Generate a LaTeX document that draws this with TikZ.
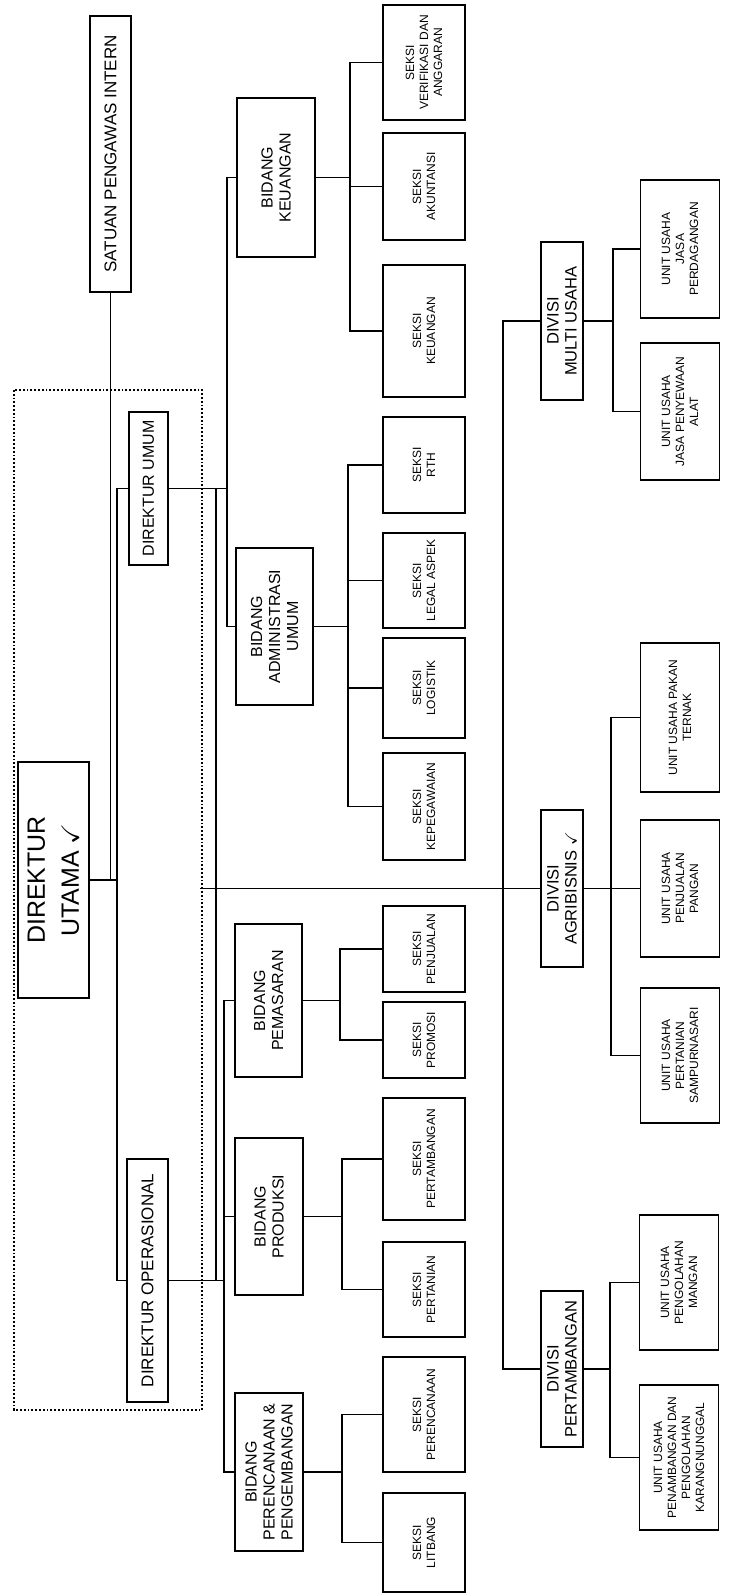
\documentclass[tikz,border=0pt]{standalone}
\usepackage{amssymb}
\usepackage{fontspec}
\setmainfont{Liberation Sans}

\begin{document}
\begin{tikzpicture}[
  x=1pt,y=-1pt,
  box/.style={draw,line width=1.4pt,rotate=90,align=center,
    inner sep=1pt,outer sep=0pt},
  wh/.style 2 args={minimum height=#1pt,minimum width=#2pt},
  head/.style={box,font=\fontsize{17}{20}\selectfont},
  bidang/.style={box,font=\fontsize{16}{18}\selectfont},
  divisi/.style={box,font=\fontsize{16.5}{18}\selectfont},
  seksi/.style={box,font=\fontsize{12}{14}\selectfont},
  link/.style={line width=1.4pt}
]
  \useasboundingbox (0,0) rectangle (728,1594);

  % direksi
  \node[head,wh={41}{276}] (spi) at (110.5,154) {SATUAN PENGAWAS INTERN};
  \node[box,wh={71}{236},font=\fontsize{25}{34}\selectfont] (dirut) at (53.5,880)
    {DIREKTUR\\UTAMA $\checkmark$};
  \node[head,wh={39}{153},font=\fontsize{16}{18}\selectfont] (dirum) at (148.5,488.5)
    {DIREKTUR UMUM};
  \node[head,wh={41}{243}] (dirop) at (147.5,1280.5) {DIREKTUR OPERASIONAL};
  \draw[dotted,line width=1.8pt] (14,390) rectangle (202,1410);

  % bidang
  \node[bidang,wh={78}{159}] (bkeu) at (276,177.5) {BIDANG\\KEUANGAN};
  \node[bidang,wh={77}{157}] (badm) at (274.5,626.5) {BIDANG\\ADMINISTRASI\\UMUM};
  \node[bidang,wh={67}{153}] (bpem) at (268.5,1000.5) {BIDANG\\PEMASARAN};
  \node[bidang,wh={68}{157}] (bprod) at (269,1216.5) {BIDANG\\PRODUKSI};
  \node[bidang,wh={68}{158}] (bper) at (269,1472) {BIDANG\\PERENCANAAN \&\\PENGEMBANGAN};

  % seksi
  \node[seksi,wh={82}{115}] (sver) at (424,62.5) {SEKSI\\VERIFIKASI DAN\\ANGGARAN};
  \node[seksi,wh={82}{107}] (sakt) at (424,186.5) {SEKSI\\AKUNTANSI};
  \node[seksi,wh={82}{132}] (skeu) at (424,331) {SEKSI\\KEUANGAN};
  \node[seksi,wh={82}{96}] (srth) at (424,465) {SEKSI\\RTH};
  \node[seksi,wh={82}{95}] (slegal) at (424,580.5) {SEKSI\\LEGAL ASPEK};
  \node[seksi,wh={82}{100}] (slog) at (424,688) {SEKSI\\LOGISTIK};
  \node[seksi,wh={82}{107}] (speg) at (424,806.5) {SEKSI\\KEPEGAWAIAN};
  \node[seksi,wh={82}{86}] (spenj) at (424,949) {SEKSI\\PENJUALAN};
  \node[seksi,wh={82}{76}] (sprom) at (424,1040) {SEKSI\\PROMOSI};
  \node[seksi,wh={82}{122}] (stamb) at (424,1159) {SEKSI\\PERTAMBANGAN};
  \node[seksi,wh={82}{95}] (stani) at (424,1289.5) {SEKSI\\PERTANIAN};
  \node[seksi,wh={82}{115}] (srenc) at (424,1414.5) {SEKSI\\PERENCANAAN};
  \node[seksi,wh={82}{99}] (slit) at (424,1542.5) {SEKSI\\LITBANG};

  % divisi
  \node[divisi,wh={42}{158}] (dmu) at (562,321) {DIVISI\\MULTI USAHA};
  \node[divisi,wh={42}{157}] (dagr) at (562,888.5) {DIVISI\\AGRIBISNIS $\checkmark$};
  \node[divisi,wh={42}{156}] (dtam) at (562,1369) {DIVISI\\PERTAMBANGAN};

  % unit usaha
  \node[seksi,wh={79}{138}] (ujasa) at (680,249) {UNIT USAHA\\JASA\\PERDAGANGAN};
  \node[seksi,wh={79}{137}] (usewa) at (680,411.5) {UNIT USAHA\\JASA PENYEWAAN\\ALAT};
  \node[seksi,wh={79}{149}] (upakan) at (680,717.5) {UNIT USAHA PAKAN\\TERNAK};
  \node[seksi,wh={79}{137}] (upangan) at (680,888.5) {UNIT USAHA\\PENJUALAN\\PANGAN};
  \node[seksi,wh={79}{135}] (usamp) at (680,1055.5) {UNIT USAHA\\PERTANIAN\\SAMPURNASARI};
  \node[seksi,wh={79}{135}] (umangan) at (679,1282.5) {UNIT USAHA\\PENGOLAHAN\\MANGAN};
  \node[seksi,wh={79}{145}] (ukarang) at (679,1457.5)
    {UNIT USAHA\\PENAMBANGAN DAN\\PENGOLAHAN\\KARANGNUNGGAL};

  % jalur garis
  \coordinate (busD) at (117,0);
  \coordinate (busO) at (216,0);
  \coordinate (busP) at (224,0);
  \coordinate (busU) at (227,0);
  \coordinate (busK) at (350,0);
  \coordinate (busA) at (348,0);
  \coordinate (busM) at (340,0);
  \coordinate (busR) at (342,0);
  \coordinate (busV) at (503,0);
  \coordinate (busMU) at (613,0);
  \coordinate (busAG) at (611,0);
  \coordinate (busTM) at (610,0);
  \coordinate (divL) at (200,888.5);

  \draw[link] (spi.west) -- (spi.west |- dirut.south);
  \draw[link] (dirut.south) -- (dirut.south -| busD);
  \draw[link] (dirum.north) -- (dirum.north -| busD) -- (dirop.north -| busD) -- (dirop.north);
  \draw[link] (dirum.south) -- (dirum.south -| busU);
  \draw[link] (dirum.south -| busO) -- (dirop.south -| busO);
  \draw[link] (dirop.south) -- (dirop.south -| busP);

  \draw[link] (bkeu.north) -- (bkeu.north -| busU) -- (badm.north -| busU) -- (badm.north);
  \draw[link] (bpem.north) -- (bpem.north -| busP) -- (bper.north -| busP) -- (bper.north);
  \draw[link] (bprod.north) -- (bprod.north -| busP);

  \draw[link] (bkeu.south) -- (bkeu.south -| busK);
  \draw[link] (sver.north) -- (sver.north -| busK) -- (skeu.north -| busK) -- (skeu.north);
  \draw[link] (sakt.north) -- (sakt.north -| busK);

  \draw[link] (badm.south) -- (badm.south -| busA);
  \draw[link] (srth.north) -- (srth.north -| busA) -- (speg.north -| busA) -- (speg.north);
  \draw[link] (slegal.north) -- (slegal.north -| busA);
  \draw[link] (slog.north) -- (slog.north -| busA);

  \draw[link] (bpem.south) -- (bpem.south -| busM);
  \draw[link] (spenj.north) -- (spenj.north -| busM) -- (sprom.north -| busM) -- (sprom.north);

  \draw[link] (bprod.south) -- (bprod.south -| busR);
  \draw[link] (stamb.north) -- (stamb.north -| busR) -- (stani.north -| busR) -- (stani.north);

  \draw[link] (bper.south) -- (bper.south -| busR);
  \draw[link] (srenc.north) -- (srenc.north -| busR) -- (slit.north -| busR) -- (slit.north);

  % divisi
  \draw[link] (divL) -- (dagr.north);
  \draw[link] (dmu.north) -- (dmu.north -| busV) -- (dtam.north -| busV) -- (dtam.north);

  \draw[link] (dmu.south) -- (dmu.south -| busMU);
  \draw[link] (ujasa.north) -- (ujasa.north -| busMU) -- (usewa.north -| busMU) -- (usewa.north);

  \draw[link] (dagr.south) -- (upangan.north);
  \draw[link] (upakan.north) -- (upakan.north -| busAG) -- (usamp.north -| busAG) -- (usamp.north);

  \draw[link] (dtam.south) -- (dtam.south -| busTM);
  \draw[link] (umangan.north) -- (umangan.north -| busTM) -- (ukarang.north -| busTM) -- (ukarang.north);
\end{tikzpicture}
\end{document}
